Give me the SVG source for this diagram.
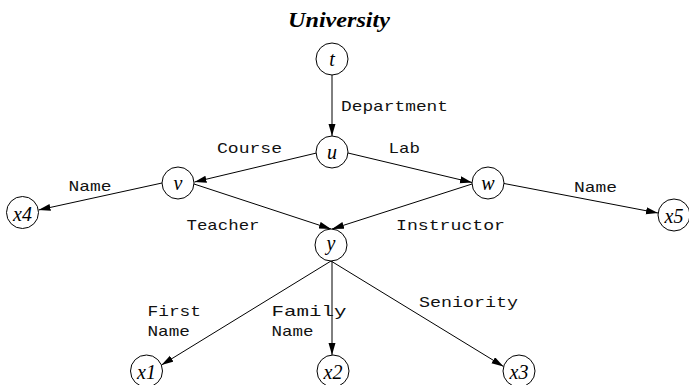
<svg xmlns="http://www.w3.org/2000/svg" width="689" height="385" viewBox="0 0 689 385">
  <style>
    .node circle { fill: #ffffff; stroke: #000000; stroke-width: 1; }
    .node text { font-family: "Liberation Serif", "Times New Roman", serif; font-style: italic; font-size: 20px; text-anchor: middle; fill: #000000; }
    .edge { stroke: #000000; stroke-width: 1; fill: none; marker-end: url(#arrow); }
    .lbl { font-family: "Liberation Mono", "Courier New", monospace; font-size: 15px; fill: #111111; }
    .title { font-family: "Liberation Serif", "Times New Roman", serif; font-style: italic; font-weight: bold; font-size: 20px; fill: #000000; }
  </style>
  <defs>
    <marker id="arrow" markerUnits="userSpaceOnUse" markerWidth="13" markerHeight="8" refX="12" refY="3.5" orient="auto">
      <path d="M0,0 L12,3.5 L0,7 Z" fill="#000000"/>
    </marker>
  </defs>
  <rect width="689" height="385" fill="#ffffff"/>

  <text class="title" x="288" y="26.5" textLength="102" lengthAdjust="spacingAndGlyphs">University</text>

  <!-- connectors -->
  <g id="edges">
    <line class="edge" x1="332" y1="75" x2="332" y2="136"/>
    <line class="edge" x1="316.5" y1="153" x2="194.5" y2="182"/>
    <line class="edge" x1="348" y1="153" x2="472" y2="182.5"/>
    <line class="edge" x1="162" y1="183" x2="38.5" y2="210"/>
    <line class="edge" x1="194" y1="184" x2="331" y2="229"/>
    <line class="edge" x1="472" y1="184" x2="332" y2="229"/>
    <line class="edge" x1="504" y1="183.5" x2="658" y2="213"/>
    <line class="edge" x1="331" y1="261" x2="161.5" y2="365"/>
    <line class="edge" x1="332" y1="261" x2="332" y2="355"/>
    <line class="edge" x1="331" y1="261" x2="503.5" y2="366.5"/>
  </g>

  <!-- connector labels -->
  <g id="edge-labels">
    <text class="lbl" x="341" y="111" textLength="107" lengthAdjust="spacingAndGlyphs">Department</text>
    <text class="lbl" x="217" y="153" textLength="65" lengthAdjust="spacingAndGlyphs">Course</text>
    <text class="lbl" x="388.5" y="153" textLength="31.5" lengthAdjust="spacingAndGlyphs">Lab</text>
    <text class="lbl" x="68.5" y="191" textLength="43" lengthAdjust="spacingAndGlyphs">Name</text>
    <text class="lbl" x="186.5" y="230" textLength="73" lengthAdjust="spacingAndGlyphs">Teacher</text>
    <text class="lbl" x="396" y="230" textLength="109" lengthAdjust="spacingAndGlyphs">Instructor</text>
    <text class="lbl" x="574" y="191.5" textLength="43" lengthAdjust="spacingAndGlyphs">Name</text>
    <text class="lbl" x="147.5" y="316" textLength="53.5" lengthAdjust="spacingAndGlyphs">First</text>
    <text class="lbl" x="147.5" y="336" textLength="42.5" lengthAdjust="spacingAndGlyphs">Name</text>
    <text class="lbl" x="271.5" y="316" textLength="75" lengthAdjust="spacingAndGlyphs">Family</text>
    <text class="lbl" x="271.5" y="336" textLength="42" lengthAdjust="spacingAndGlyphs">Name</text>
    <text class="lbl" x="419" y="307" textLength="99" lengthAdjust="spacingAndGlyphs">Seniority</text>
  </g>

  <!-- nodes -->
  <g id="node-t" class="node"><circle cx="332" cy="59" r="16"/><text x="332" y="66">t</text></g>
  <g id="node-u" class="node"><circle cx="332" cy="152" r="16"/><text x="332" y="159">u</text></g>
  <g id="node-v" class="node"><circle cx="178" cy="183" r="16"/><text x="178" y="190">v</text></g>
  <g id="node-w" class="node"><circle cx="488" cy="183" r="16"/><text x="488" y="190">w</text></g>
  <g id="node-x4" class="node"><circle cx="22.5" cy="212.5" r="16"/><text x="22.5" y="221">x4</text></g>
  <g id="node-x5" class="node"><circle cx="674" cy="215" r="16"/><text x="674" y="223">x5</text></g>
  <g id="node-y" class="node"><circle cx="331" cy="245" r="16"/><text x="331" y="250">y</text></g>
  <g id="node-x1" class="node"><circle cx="146.5" cy="371" r="16"/><text x="146.5" y="379">x1</text></g>
  <g id="node-x2" class="node"><circle cx="333" cy="371" r="16"/><text x="333" y="379">x2</text></g>
  <g id="node-x3" class="node"><circle cx="519" cy="371" r="16"/><text x="519" y="379">x3</text></g>
</svg>
